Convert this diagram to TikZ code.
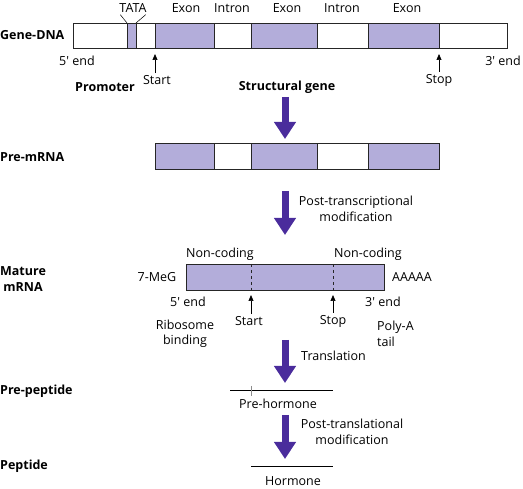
\documentclass[tikz,border=0pt]{standalone}
\usepackage{fontspec}
\setmainfont{Open Sans}
\usepackage{tikz}
\usetikzlibrary{arrows.meta,positioning,calc}
\definecolor{exonfill}{HTML}{B3ADDA}
\definecolor{arrowpurple}{HTML}{4A2C9C}
\newcommand{\fivend}{5\textquotesingle{} end}
\newcommand{\threend}{3\textquotesingle{} end}
\tikzset{
  lbl/.style={font=\fontsize{12.5}{15.5}\selectfont, inner sep=0pt},
  head/.style={font=\fontsize{12.5}{15.5}\selectfont\bfseries, inner sep=0pt},
  seg/.style={draw=black!85, line width=0.8pt},
  bigarrow/.style={draw=arrowpurple, line width=7pt, -{Triangle[width=21pt,length=17pt]}},
  smallarrow/.style={draw=black, line width=0.7pt, -{Triangle[length=6pt,width=5pt]}}
}

\begin{document}
\begin{tikzpicture}[x=1pt,y=-1pt]
\useasboundingbox (0,0) rectangle (523,489);

% gene-DNA
\foreach \a/\b/\c in {73/127/white,127/136/exonfill,136/155/white,155/214/exonfill,214/251/white,251/317/exonfill,317/368/white,368/439/exonfill,439/507/white}
  \draw[seg,fill=\c] (\a,23) rectangle (\b,48);
\coordinate (dnastartpt) at (155,54);
\coordinate (dnastoppt) at (439,54);
\node[head,anchor=west] (genedna) at (0,35) {Gene-DNA};
\node[lbl] (tata) at (133,8) {TATA};
\draw[line width=0.5pt] (tata.south west) ++(1,2) -- (127,23);
\draw[line width=0.5pt] (tata.south east) ++(-1,2) -- (136,23);
\node[lbl] (exona) at (186,8) {Exon};
\node[lbl] (introna) at (232,8) {Intron};
\node[lbl] (exonb) at (287,8) {Exon};
\node[lbl] (intronb) at (342,8) {Intron};
\node[lbl] (exonc) at (407,8) {Exon};
\node[lbl] (dnafive) at (77,61) {\fivend};
\node[lbl] (dnathree) at (503,61) {\threend};
\node[lbl] (dnastart) at (157,80) {Start};
\node[lbl] (dnastop) at (439,80) {Stop};
\draw[smallarrow] (dnastart.north -| dnastartpt) ++(0,-2) -- (dnastartpt);
\draw[smallarrow] (dnastop.north -| dnastoppt) ++(0,-2) -- (dnastoppt);
\node[head] (promoter) at (105,87) {Promoter};
\node[head] (structgene) at (287,87) {Structural gene};

% transcription
\coordinate (ta) at (285,97);
\coordinate (tb) at (285,139);
\draw[bigarrow] (ta) -- (tb);

% pre-mRNA
\foreach \a/\b/\c in {155/214/exonfill,214/251/white,251/317/exonfill,317/368/white,368/439/exonfill}
  \draw[seg,fill=\c] (\a,143) rectangle (\b,169);
\node[head,anchor=west] (premrna) at (0,157) {Pre-mRNA};

\coordinate (pa) at (285,191);
\coordinate (pb) at (285,235);
\draw[bigarrow] (pa) -- (pb);
\node[lbl,align=center] (posttrans) at (356,209) {Post-transcriptional\\modification};

% mature mRNA
\draw[seg,fill=exonfill] (186,264) rectangle (384,290);
\draw[seg,dashed] (251,264) -- (251,290);
\draw[seg,dashed] (333,264) -- (333,290);
\coordinate (mstartpt) at (251,295);
\coordinate (mstoppt) at (333,295);
\node[head,align=center] (mature) at (23,279) {Mature\\mRNA};
\node[lbl] (ncodea) at (220,254) {Non-coding};
\node[lbl] (ncodeb) at (368,254) {Non-coding};
\node[lbl] (cap) at (157,277) {7-MeG};
\node[lbl] (polya) at (412,277) {AAAAA};
\node[lbl] (mfive) at (188,302) {\fivend};
\node[lbl] (mthree) at (383,302) {\threend};
\node[lbl] (mstart) at (249,321) {Start};
\node[lbl] (mstop) at (333,321) {Stop};
\draw[smallarrow] (mstart.north -| mstartpt) ++(0,-2) -- (mstartpt);
\draw[smallarrow] (mstop.north -| mstoppt) ++(0,-2) -- (mstoppt);
\node[lbl,align=center] (ribo) at (185,334) {Ribosome\\binding};
\node[lbl,align=left,anchor=west] (tail) at (377,334) {Poly-A\\tail};

% translation
\coordinate (ma) at (285,340);
\coordinate (mb) at (285,383);
\draw[bigarrow] (ma) -- (mb);
\node[lbl,anchor=west] (transl) at (301,356) {Translation};

% pre-peptide
\node[head,anchor=west] (prepep) at (0,391) {Pre-peptide};
\draw[line width=1pt] (230,391) -- (333,391);
\draw[black!45,line width=0.5pt] (251,386) -- (251,396);
\node[lbl] (prehorm) at (278,404) {Pre-hormone};

\coordinate (ha) at (285,415);
\coordinate (hb) at (285,459);
\draw[bigarrow] (ha) -- (hb);
\node[lbl,align=center] (posttransl) at (352,432) {Post-translational\\modification};

% peptide
\node[head,anchor=west] (peptide) at (0,466) {Peptide};
\draw[line width=1pt] (251,467) -- (333,467);
\node[lbl] (hormone) at (293,481) {Hormone};
\end{tikzpicture}
\end{document}
